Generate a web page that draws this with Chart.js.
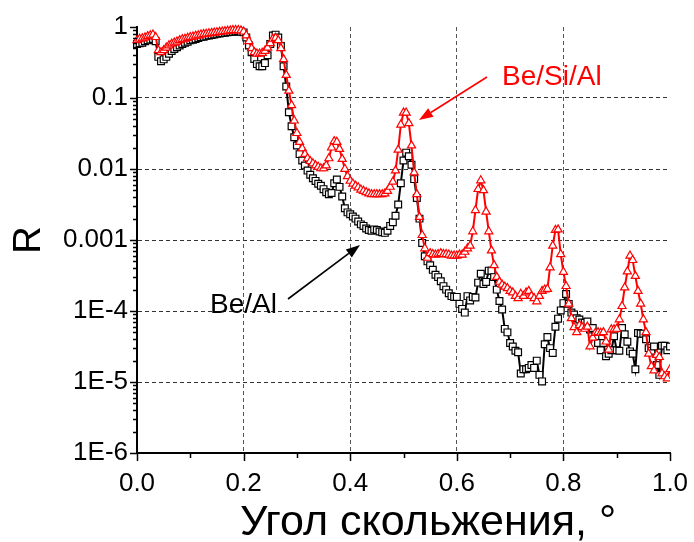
<!DOCTYPE html>
<html>
<head>
<meta charset="utf-8">
<script src="https://cdn.jsdelivr.net/npm/chart.js@4.4.1/dist/chart.umd.min.js"></script>
<style>
  html, body { margin: 0; padding: 0; background: #fff; }
</style>
</head>
<body>
<canvas id="refl" width="694" height="542"></canvas>
<script>
// Угол скольжения, градусы
const angles = [
  0.000, 0.005, 0.010, 0.015, 0.020, 0.025, 0.030, 0.035, 0.040, 0.045,
  0.050, 0.055, 0.060, 0.065, 0.070, 0.075, 0.080, 0.085, 0.090, 0.095,
  0.100, 0.105, 0.110, 0.115, 0.120, 0.125, 0.130, 0.135, 0.140, 0.145,
  0.150, 0.155, 0.160, 0.165, 0.170, 0.175, 0.180, 0.185, 0.190, 0.195,
  0.200, 0.205, 0.210, 0.215, 0.220, 0.225, 0.230, 0.235, 0.240, 0.245,
  0.250, 0.255, 0.260, 0.265, 0.270, 0.275, 0.280, 0.285, 0.290, 0.295,
  0.300, 0.305, 0.310, 0.315, 0.320, 0.325, 0.330, 0.335, 0.340, 0.345,
  0.350, 0.355, 0.360, 0.365, 0.370, 0.375, 0.380, 0.385, 0.390, 0.395,
  0.400, 0.405, 0.410, 0.415, 0.420, 0.425, 0.430, 0.435, 0.440, 0.445,
  0.450, 0.455, 0.460, 0.465, 0.470, 0.475, 0.480, 0.485, 0.490, 0.495,
  0.500, 0.505, 0.510, 0.515, 0.520, 0.525, 0.530, 0.535, 0.540, 0.545,
  0.550, 0.555, 0.560, 0.565, 0.570, 0.575, 0.580, 0.585, 0.590, 0.595,
  0.600, 0.605, 0.610, 0.615, 0.620, 0.625, 0.630, 0.635, 0.640, 0.645,
  0.650, 0.655, 0.660, 0.665, 0.670, 0.675, 0.680, 0.685, 0.690, 0.695,
  0.700, 0.705, 0.710, 0.715, 0.720, 0.725, 0.730, 0.735, 0.740, 0.745,
  0.750, 0.755, 0.760, 0.765, 0.770, 0.775, 0.780, 0.785, 0.790, 0.795,
  0.800, 0.805, 0.810, 0.815, 0.820, 0.825, 0.830, 0.835, 0.840, 0.845,
  0.850, 0.855, 0.860, 0.865, 0.870, 0.875, 0.880, 0.885, 0.890, 0.895,
  0.900, 0.905, 0.910, 0.915, 0.920, 0.925, 0.930, 0.935, 0.940, 0.945,
  0.950, 0.955, 0.960, 0.965, 0.970, 0.975, 0.980, 0.985, 0.990, 0.995,
  1.000
];

// коэффициент отражения R, зеркало Be/Si/Al
const rBeSiAl = [
  0.65, 0.68, 0.69, 0.71, 0.74, 0.76, 0.78, 0.72, 0.47, 0.44,
  0.47, 0.51, 0.55, 0.58, 0.60, 0.62, 0.65, 0.67, 0.68, 0.70,
  0.72, 0.73, 0.75, 0.76, 0.78, 0.79, 0.80, 0.81, 0.82, 0.83,
  0.84, 0.85, 0.86, 0.87, 0.88, 0.89, 0.90, 0.90, 0.90, 0.89,
  0.86, 0.76, 0.63, 0.50, 0.44, 0.42, 0.42, 0.43, 0.46, 0.51,
  0.59, 0.68, 0.70, 0.65, 0.50, 0.35, 0.21, 0.126, 0.079, 0.048,
  0.032, 0.024, 0.0195, 0.0162, 0.0141, 0.0129, 0.0120, 0.0112, 0.0107, 0.0102,
  0.0102, 0.0112, 0.0141, 0.0200, 0.0245, 0.0240, 0.0191, 0.0138, 0.0100, 0.0079,
  0.0068, 0.0062, 0.0058, 0.0055, 0.0051, 0.0049, 0.0047, 0.0045, 0.0044, 0.0044,
  0.0044, 0.0044, 0.0044, 0.0045, 0.0049, 0.0056, 0.0066, 0.0095, 0.0186, 0.042,
  0.062, 0.062, 0.044, 0.0214, 0.0089, 0.0044, 0.0021, 0.00117, 7.6e-4, 5.6e-4,
  6.5e-4, 6.3e-4, 6.2e-4, 6.3e-4, 6.5e-4, 6.3e-4, 6.3e-4, 6.2e-4, 6.0e-4, 6.0e-4,
  6.0e-4, 6.2e-4, 6.2e-4, 6.8e-4, 7.6e-4, 8.3e-4, 1.32e-3, 2.63e-3, 5.2e-3, 6.9e-3,
  5.0e-3, 2.5e-3, 1.32e-3, 7.1e-4, 4.4e-4, 3.0e-4, 2.57e-4, 2.34e-4, 2.19e-4, 2.09e-4,
  1.91e-4, 1.82e-4, 1.62e-4, 1.51e-4, 1.74e-4, 1.62e-4, 1.82e-4, 1.91e-4, 1.62e-4, 1.51e-4,
  1.36e-4, 1.62e-4, 1.91e-4, 2.0e-4, 2.04e-4, 4.1e-4, 8.3e-4, 1.38e-3, 1.4e-3, 6.3e-4,
  3.55e-4, 2.24e-4, 1.26e-4, 7.9e-5, 5.9e-5, 5.0e-5, 6.3e-5, 5.9e-5, 5.6e-5, 6.0e-5,
  3.16e-5, 4.2e-5, 4.9e-5, 5.0e-5, 4.9e-5, 5.0e-5, 3.7e-5, 2.85e-5, 5.5e-5, 5.5e-5,
  5.6e-5, 7.6e-5, 1.17e-4, 2.14e-4, 3.6e-4, 6.0e-4, 5.2e-4, 3.1e-4, 1.91e-4, 1.26e-4,
  7.6e-5, 5.0e-5, 2.5e-5, 1.66e-5, 1.45e-5, 2.4e-5, 2.24e-5, 1.32e-5, 1.2e-5, 1.12e-5,
  1.51e-5
];

// коэффициент отражения R, зеркало Be/Al
const rBeAl = [
  0.575, 0.59, 0.60, 0.63, 0.65, 0.66, 0.68, 0.63, 0.38, 0.33,
  0.35, 0.38, 0.42, 0.46, 0.49, 0.52, 0.55, 0.575, 0.60, 0.62,
  0.65, 0.66, 0.68, 0.70, 0.72, 0.73, 0.75, 0.76, 0.77, 0.785,
  0.80, 0.81, 0.82, 0.83, 0.84, 0.85, 0.86, 0.865, 0.87, 0.86,
  0.84, 0.71, 0.55, 0.44, 0.355, 0.30, 0.28, 0.28, 0.31, 0.40,
  0.575, 0.76, 0.78, 0.71, 0.54, 0.28, 0.145, 0.063, 0.040, 0.028,
  0.0214, 0.0162, 0.0132, 0.0112, 0.0095, 0.0083, 0.0074, 0.0068, 0.0062, 0.0058,
  0.0052, 0.0047, 0.0044, 0.0046, 0.0063, 0.0071, 0.0056, 0.0041, 0.0028, 0.00245,
  0.0023, 0.00214, 0.0020, 0.00182, 0.00166, 0.00158, 0.00145, 0.00138, 0.00135, 0.00141,
  0.00138, 0.00132, 0.00129, 0.00126, 0.00135, 0.00158, 0.00178, 0.00219, 0.00316, 0.0063,
  0.0132, 0.0170, 0.0151, 0.0115, 0.0072, 0.0039, 0.0020, 9.1e-4, 5.9e-4, 5.0e-4,
  4.4e-4, 3.8e-4, 3.24e-4, 3.0e-4, 2.63e-4, 2.24e-4, 2.0e-4, 1.78e-4, 1.62e-4, 1.58e-4,
  1.58e-4, 1.26e-4, 1.07e-4, 9.5e-5, 1.62e-4, 1.41e-4, 1.58e-4, 1.55e-4, 2.51e-4, 3.35e-4,
  2.4e-4, 2.57e-4, 3.7e-4, 3.7e-4, 3.0e-4, 2.0e-4, 1.38e-4, 1.05e-4, 5.6e-5, 5.0e-5,
  3.55e-5, 3.16e-5, 2.75e-5, 2.63e-5, 1.32e-5, 1.51e-5, 1.51e-5, 1.58e-5, 1.74e-5, 1.58e-5,
  2.0e-5, 1.26e-5, 1.02e-5, 3.4e-5, 4.3e-5, 3.0e-5, 2.57e-5, 6.0e-5, 7.8e-5, 1.02e-4,
  1.29e-4, 1.74e-4, 1.26e-4, 9.5e-5, 8.9e-5, 7.9e-5, 7.6e-5, 6.9e-5, 6.8e-5, 7.1e-5,
  5.5e-5, 5.75e-5, 4.4e-5, 3.55e-5, 2.8e-5, 3.55e-5, 2.3e-5, 2.5e-5, 2.8e-5, 4.4e-5,
  2.8e-5, 2.75e-5, 5.75e-5, 4.7e-5, 3.7e-5, 2.7e-5, 2.5e-5, 1.51e-5, 4.9e-5, 4.8e-5,
  4.8e-5, 4.0e-5, 3.0e-5, 2.75e-5, 3.16e-5, 1.74e-5, 1.26e-5, 3.24e-5, 3.24e-5, 2.8e-5,
  3.16e-5
];

const xTickValues = [0, 0.2, 0.4, 0.6, 0.8, 1.0];
const xTickLabels = ['0.0', '0.2', '0.4', '0.6', '0.8', '1.0'];
const yTickValues = [1e-6, 1e-5, 1e-4, 1e-3, 1e-2, 1e-1, 1];
const yTickLabels = ['1E-6', '1E-5', '1E-4', '0.001', '0.01', '0.1', '1'];

const RED = 'rgb(255, 0, 0)';
const FONT = '"Liberation Sans", Arial, sans-serif';

function arrow(ctx, x1, y1, x2, y2, color) {
    const ang = Math.atan2(y2 - y1, x2 - x1);
    const len = 14, half = 5;
    const bx = x2 - Math.cos(ang) * len, by = y2 - Math.sin(ang) * len;
    ctx.strokeStyle = color;
    ctx.fillStyle = color;
    ctx.lineWidth = 1.6;
    ctx.beginPath();
    ctx.moveTo(x1, y1);
    ctx.lineTo(bx, by);
    ctx.stroke();
    ctx.beginPath();
    ctx.moveTo(x2, y2);
    ctx.lineTo(bx - Math.sin(ang) * half, by + Math.cos(ang) * half);
    ctx.lineTo(bx + Math.sin(ang) * half, by - Math.cos(ang) * half);
    ctx.closePath();
    ctx.fill();
}

// засечки осей, подписи осей, надписи со стрелками
const decor = {
    id: 'decor',
    afterDraw(chart) {
        const { ctx, chartArea: a, scales: { x, y } } = chart;
        ctx.save();
        ctx.strokeStyle = '#000';
        ctx.lineWidth = 1.5;
        ctx.beginPath();
        for (let i = 0; i <= 10; i++) {
            const px = Math.round(x.getPixelForValue(i / 10)) + 0.5;
            const len = i % 2 === 0 ? 8 : 5;
            ctx.moveTo(px, a.bottom);
            ctx.lineTo(px, a.bottom + len);
        }
        for (let d = -6; d <= 0; d++) {
            const py = Math.round(y.getPixelForValue(Math.pow(10, d))) + 0.5;
            ctx.moveTo(a.left, py);
            ctx.lineTo(a.left - 7, py);
            if (d < 0) {
                for (let m = 2; m <= 9; m++) {
                    const pm = Math.round(y.getPixelForValue(m * Math.pow(10, d))) + 0.5;
                    ctx.moveTo(a.left, pm);
                    ctx.lineTo(a.left - 4, pm);
                }
            }
        }
        ctx.stroke();

        ctx.fillStyle = '#000';
        ctx.font = '43px ' + FONT;
        ctx.textAlign = 'center';
        ctx.textBaseline = 'alphabetic';
        ctx.fillText('Угол скольжения, °', 428, 535);

        ctx.font = '38px ' + FONT;
        ctx.save();
        ctx.translate(40, 240);
        ctx.rotate(-Math.PI / 2);
        ctx.fillText('R', 0, 0);
        ctx.restore();

        ctx.font = '28px ' + FONT;
        ctx.textAlign = 'left';
        ctx.fillStyle = RED;
        ctx.fillText('Be/Si/Al', 502, 85);
        arrow(ctx, 487, 77, 419, 120, RED);

        ctx.fillStyle = '#000';
        ctx.fillText('Be/Al', 210, 313);
        arrow(ctx, 288, 299, 360, 245, '#000');
        ctx.restore();
    }
};

const pts = arr => angles.map((a, i) => ({ x: a, y: arr[i] }));

new Chart(document.getElementById('refl'), {
    type: 'line',
    data: {
        datasets: [{
            label: 'Be/Si/Al',
            data: pts(rBeSiAl),
            borderColor: RED,
            borderWidth: 2,
            pointStyle: 'triangle',
            pointRadius: 4.7,
            pointBorderWidth: 1.2,
            pointBorderColor: RED,
            pointBackgroundColor: '#fff',
            tension: 0,
            clip: { left: 6, top: 6, right: 0, bottom: 0 }
        }, {
            label: 'Be/Al',
            data: pts(rBeAl),
            borderColor: '#000',
            borderWidth: 2,
            pointStyle: 'rect',
            pointRadius: 4.8,
            pointBorderWidth: 1.2,
            pointBorderColor: '#000',
            pointBackgroundColor: '#fff',
            tension: 0,
            clip: { left: 6, top: 6, right: 0, bottom: 0 }
        }]
    },
    options: {
        responsive: false,
        animation: false,
        devicePixelRatio: 1,
        layout: { padding: { top: 27, right: 24, left: 0, bottom: 0 } },
        plugins: { legend: { display: false }, tooltip: { enabled: false } },
        scales: {
            x: {
                type: 'linear',
                min: 0,
                max: 1,
                afterBuildTicks: s => { s.ticks = xTickValues.map(v => ({ value: v })); },
                afterFit: s => { s.height = 89; s.paddingLeft = 0; s.paddingRight = 0; },
                ticks: {
                    autoSkip: false,
                    maxRotation: 0,
                    padding: 15,
                    color: '#000',
                    font: { family: FONT, size: 26 },
                    callback: (v, i) => xTickLabels[i]
                },
                grid: {
                    drawTicks: false,
                    lineWidth: 1,
                    color: c => (c.index > 0 && c.index < xTickValues.length - 1) ? '#555' : 'rgba(0,0,0,0)'
                },
                border: { display: true, color: '#000', width: 2, dash: [4, 3] }
            },
            y: {
                type: 'logarithmic',
                min: 1e-6,
                max: 1,
                afterBuildTicks: s => { s.ticks = yTickValues.map(v => ({ value: v })); },
                afterFit: s => { s.width = 137; },
                ticks: {
                    autoSkip: false,
                    padding: 9,
                    color: '#000',
                    font: { family: FONT, size: 26 },
                    callback: (v, i) => yTickLabels[i]
                },
                grid: {
                    drawTicks: false,
                    lineWidth: 1,
                    color: c => (c.index > 0 && c.index < yTickValues.length - 1) ? '#333' : 'rgba(0,0,0,0)'
                },
                border: { display: true, color: '#000', width: 2, dash: [4, 3] }
            }
        }
    },
    plugins: [decor]
});
</script>
</body>
</html>
